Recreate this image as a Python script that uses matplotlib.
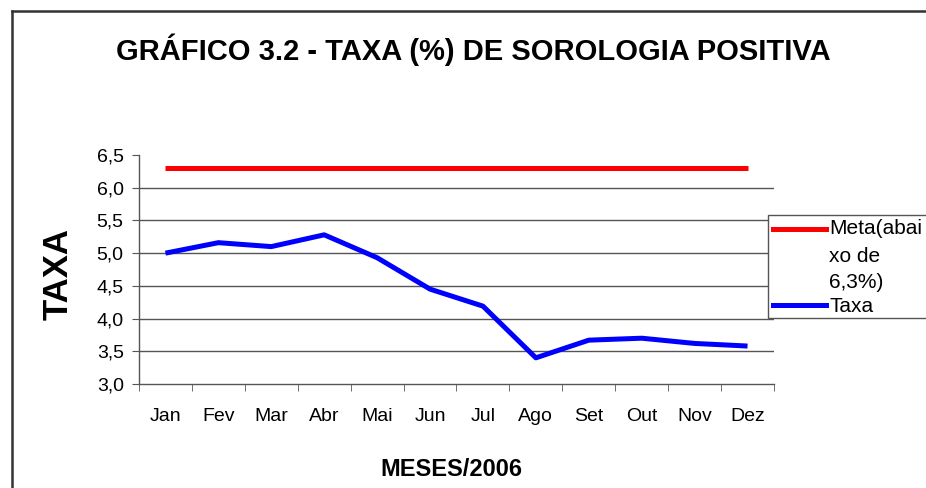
import numpy as np
import matplotlib
matplotlib.use("Agg")
import matplotlib.pyplot as plt
from matplotlib.patches import Rectangle
from matplotlib.lines import Line2D

plt.rcParams['font.family'] = ['Liberation Sans', 'DejaVu Sans']

# data
meses = ['Jan', 'Fev', 'Mar', 'Abr', 'Mai', 'Jun', 'Jul', 'Ago', 'Set', 'Out', 'Nov', 'Dez']
taxa = [5.00, 5.16, 5.10, 5.28, 4.93, 4.45, 4.19, 3.40, 3.67, 3.70, 3.62, 3.58]
meta = [6.3] * len(meses)
y_ticks = [3.0, 3.5, 4.0, 4.5, 5.0, 5.5, 6.0, 6.5]
meta_label = 'Meta(abai\nxo de\n6,3%)'
taxa_label = 'Taxa'

W, H = 926, 488
fig = plt.figure(figsize=(W / 100, H / 100), dpi=100)
ax = fig.add_axes([139/W, 1 - 384/H, (774 - 139)/W, (384 - 155)/H])

x = np.arange(len(meses))
ax.plot(x, meta, color='#ff0000', linewidth=3.6, solid_capstyle='butt', zorder=3)
ax.plot(x, taxa, color='#0000ff', linewidth=3.6, solid_capstyle='butt', zorder=3)

ax.set_xlim(-0.5, len(meses) - 0.5)
ax.set_ylim(3.0, 6.5)
ax.set_yticks(y_ticks)
ax.set_yticklabels([f'{v:.1f}'.replace('.', ',') for v in y_ticks], fontsize=14)
ax.set_xticks(x)
ax.set_xticklabels(meses, fontsize=14)
ax.set_xticks(np.arange(len(meses) + 1) - 0.5, minor=True)
ax.tick_params(axis='x', which='major', length=0, pad=17)
ax.tick_params(axis='x', which='minor', length=5, color='#555555', direction='out')
ax.tick_params(axis='y', length=5, color='#555555', direction='out', pad=6)

for v in y_ticks[1:-1]:
    ax.axhline(v, color='#555555', linewidth=1, zorder=1)
for s in ['top', 'right']:
    ax.spines[s].set_visible(False)
for s in ['left', 'bottom']:
    ax.spines[s].set_color('#555555')
    ax.spines[s].set_linewidth(1)

# outer chart frame (only top and left edges are inside the picture)
fig.lines.append(Line2D([12/W, 1.0], [1 - 11/H] * 2, transform=fig.transFigure,
                        color='#333333', linewidth=1.8))
fig.lines.append(Line2D([12/W] * 2, [0.0, 1 - 11/H], transform=fig.transFigure,
                        color='#333333', linewidth=1.8))

fig.text(473/W, 1 - 50/H, 'GRÁFICO 3.2 - TAXA (%) DE SOROLOGIA POSITIVA',
         ha='center', va='center', fontsize=21, fontweight='bold')
fig.text(58/W, 1 - 274/H, 'TAXA', rotation=90, ha='center', va='center',
         fontsize=25, fontweight='bold')
fig.text(451/W, 1 - 470/H, 'MESES/2006', ha='center', va='center',
         fontsize=17, fontweight='bold')

# legend box, drawn by hand to match the wrapped label
fig.patches.append(Rectangle((768/W, 1 - 318/H), 0.3, (318 - 215)/H, transform=fig.transFigure,
                             facecolor='white', edgecolor='#555555', linewidth=1))
fig.lines.append(Line2D([773/W, 826/W], [1 - 229/H] * 2, transform=fig.transFigure,
                        color='#ff0000', linewidth=3.6))
fig.lines.append(Line2D([773/W, 826/W], [1 - 305/H] * 2, transform=fig.transFigure,
                        color='#0000ff', linewidth=3.6))
for line, yc in zip(meta_label.split('\n'), [229, 257, 283]):
    fig.text(829/W, 1 - yc/H, line, ha='left', va='center', fontsize=15)
fig.text(829/W, 1 - 306/H, taxa_label, ha='left', va='center', fontsize=15)

fig.savefig('out.png', dpi=100)
